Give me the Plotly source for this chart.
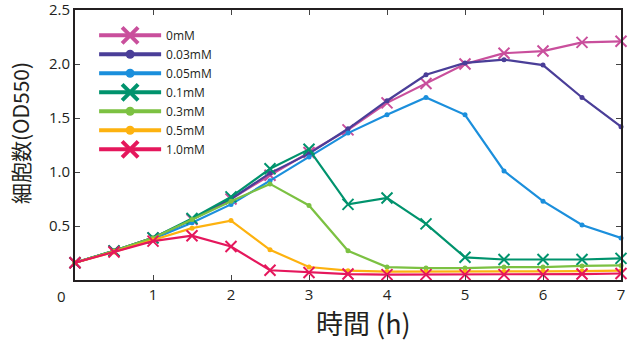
import plotly.graph_objects as go

time_h = [0, 0.5, 1, 1.5, 2, 2.5, 3, 3.5, 4, 4.5, 5, 5.5, 6, 6.5, 7]

series_names = ["0mM", "0.03mM", "0.05mM", "0.1mM", "0.3mM", "0.5mM", "1.0mM"]
od_0mM   = [0.16, 0.27, 0.39, 0.56, 0.75, 0.97, 1.18, 1.39, 1.64, 1.82, 2.00, 2.10, 2.12, 2.20, 2.21]
od_003mM = [0.16, 0.27, 0.39, 0.56, 0.75, 0.99, 1.17, 1.40, 1.66, 1.90, 2.01, 2.04, 1.99, 1.69, 1.42]
od_005mM = [0.16, 0.27, 0.38, 0.53, 0.70, 0.92, 1.14, 1.36, 1.53, 1.69, 1.53, 1.01, 0.73, 0.51, 0.39]
od_01mM  = [0.16, 0.27, 0.39, 0.57, 0.77, 1.03, 1.21, 0.70, 0.76, 0.52, 0.21, 0.19, 0.19, 0.19, 0.20]
od_03mM  = [0.16, 0.27, 0.39, 0.56, 0.73, 0.89, 0.69, 0.27, 0.12, 0.11, 0.11, 0.12, 0.12, 0.13, 0.135]
od_05mM  = [0.16, 0.26, 0.37, 0.48, 0.55, 0.28, 0.12, 0.086, 0.078, 0.077, 0.077, 0.078, 0.08, 0.083, 0.086]
od_10mM  = [0.16, 0.26, 0.36, 0.41, 0.31, 0.09, 0.07, 0.055, 0.05, 0.05, 0.05, 0.05, 0.05, 0.055, 0.06]

series_values = [od_0mM, od_003mM, od_005mM, od_01mM, od_03mM, od_05mM, od_10mM]
colors = ["#c94f9c", "#4a3e98", "#1b8fdc", "#00936d", "#7cc142", "#fdb20f", "#e5175c"]
cross = [True, False, False, True, False, False, True]

x_ticks = [1, 2, 3, 4, 5, 6, 7]
y_ticks = [0.5, 1.0, 1.5, 2.0, 2.5]
y_tick_text = ["0.5", "1.0", "1.5", "2.0", "2.5"]
x_title = "時間 (h)"
y_title = "細胞数(OD550)"

INK = "#231f20"

fig = go.Figure()

for name, vals, col, cr in zip(series_names, series_values, colors, cross):
    if cr:
        marker = dict(symbol="x-thin", size=11, line=dict(color=col, width=2), color=col)
    else:
        marker = dict(symbol="circle", size=5, color=col)
    fig.add_trace(go.Scatter(x=time_h, y=vals, mode="lines+markers", name=name,
                             line=dict(color=col, width=2.2), marker=marker,
                             showlegend=False, cliponaxis=False))

# legend entries (bigger symbols, as in the reference)
for name, col, cr in zip(series_names, colors, cross):
    if cr:
        marker = dict(symbol="x-thin", size=16, line=dict(color=col, width=4), color=col)
    else:
        marker = dict(symbol="circle", size=9, color=col)
    fig.add_trace(go.Scatter(x=[None], y=[None], mode="lines+markers", name=name,
                             line=dict(color=col, width=4), marker=marker,
                             showlegend=True))

fig.add_annotation(x=0, y=0, xref="x", yref="paper", text="0", showarrow=False,
                   xanchor="center", yanchor="top", xshift=-14, yshift=-4,
                   font=dict(family="Open Sans", size=15, color=INK))

fig.add_annotation(x=0.529, y=0, xref="paper", yref="paper", text=x_title,
                   showarrow=False, xanchor="center", yanchor="middle", yshift=-42,
                   font=dict(family="Noto Sans CJK JP", size=27, color=INK))

fig.add_annotation(x=0, y=0.544, xref="paper", yref="paper", text=y_title,
                   showarrow=False, xanchor="center", yanchor="middle", xshift=-55,
                   textangle=-90,
                   font=dict(family="Noto Sans CJK JP", size=21, color=INK))

fig.update_layout(
    width=636, height=360,
    margin=dict(l=75, r=15, t=10, b=80),
    paper_bgcolor="white", plot_bgcolor="white",
    font=dict(family="Open Sans", color=INK),
    legend=dict(x=0.035, y=0.96, xanchor="left", yanchor="top",
                bgcolor="rgba(0,0,0,0)", itemwidth=62, tracegroupgap=0,
                font=dict(family="Open Sans", size=12, color=INK)),
    xaxis=dict(range=[0, 7], tickvals=x_ticks, ticks="inside", ticklen=5,
               showgrid=False, zeroline=False, showline=True, linecolor=INK,
               linewidth=2, mirror="ticks", tickfont=dict(size=15), automargin=False,
               ticklabeloverflow="allow"),
    yaxis=dict(range=[0, 2.5], tickvals=y_ticks, ticktext=y_tick_text,
               ticks="inside", ticklen=5, showgrid=False, zeroline=False,
               showline=True, linecolor=INK, linewidth=2, mirror="ticks",
               tickfont=dict(size=15), automargin=False, ticklabeloverflow="allow"),
)

fig.write_html("out.html", config={"displayModeBar": False},
               post_script="document.body.style.margin='0';document.body.style.padding='0';")
